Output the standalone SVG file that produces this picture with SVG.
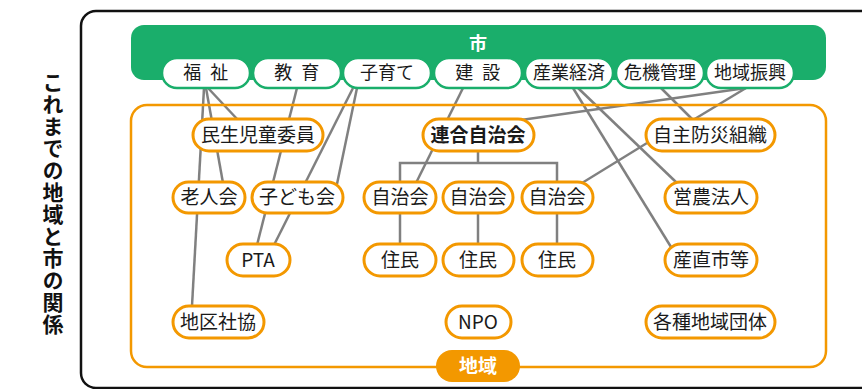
<svg xmlns="http://www.w3.org/2000/svg" width="862" height="389" viewBox="0 0 862 389">
<style>
text{font-family:"Noto Sans CJK JP","Noto Sans",sans-serif;}
.tab rect{fill:#fff;stroke:#1aae6b;stroke-width:2.5;}
.tab text{font-size:18px;fill:#1a1a1a;text-anchor:middle;}
.nd rect{fill:#fff;stroke:#f39800;stroke-width:3;}
.nd text{font-size:19px;fill:#1a1a1a;text-anchor:middle;}
.cn line,.cn path{stroke:#808080;stroke-width:2.5;fill:none;}
</style>
<rect x="81" y="11" width="820" height="377" rx="15" fill="none" stroke="#111" stroke-width="2.5"/>
<text x="53" y="72" style="writing-mode:vertical-rl;font-size:21px;font-weight:bold;letter-spacing:1px;" fill="#111">これまでの地域と市の関係</text>

<g id="city">
<rect x="131" y="25" width="695" height="55" rx="13" fill="#1aae6b"/>
<text x="478" y="50" style="font-size:18px;font-weight:bold;" fill="#fff" text-anchor="middle">市</text>
</g>

<g id="connectors" class="cn">
<line x1="204" y1="88" x2="192" y2="306"/>
<line x1="206" y1="88" x2="223" y2="183"/>
<line x1="208" y1="88" x2="238" y2="120"/>
<line x1="297" y1="88" x2="257" y2="245"/>
<line x1="353" y1="88" x2="274" y2="245"/>
<line x1="357" y1="88" x2="337" y2="184"/>
<line x1="463" y1="88" x2="416" y2="183"/>
<line x1="746" y1="88" x2="521" y2="120"/>
<line x1="746" y1="88" x2="693" y2="120"/>
<line x1="661" y1="88" x2="693" y2="120"/>
<line x1="578" y1="88" x2="677" y2="183"/>
<line x1="573" y1="88" x2="671" y2="247"/>
<line x1="647" y1="143" x2="582" y2="183"/>
<path d="M478,152V163M400,183V163H557V183"/>
<line x1="400" y1="213" x2="400" y2="245"/>
<line x1="478" y1="213" x2="478" y2="245"/>
<line x1="557" y1="213" x2="557" y2="245"/>
</g>

<rect x="131" y="105" width="695" height="262" rx="16" fill="none" stroke="#f39800" stroke-width="2.5"/>

<g id="tab-fukushi" class="tab"><rect x="162" y="58" width="88" height="30" rx="15"/><text x="207" y="79" xml:space="preserve" style="letter-spacing:2.5px">福 祉</text></g>
<g id="tab-kyouiku" class="tab"><rect x="253" y="58" width="88" height="30" rx="15"/><text x="298" y="79" xml:space="preserve" style="letter-spacing:2.5px">教 育</text></g>
<g id="tab-kosodate" class="tab"><rect x="343" y="58" width="88" height="30" rx="15"/><text x="387" y="79">子育て</text></g>
<g id="tab-kensetsu" class="tab"><rect x="434" y="58" width="88" height="30" rx="15"/><text x="479" y="79" xml:space="preserve" style="letter-spacing:2.5px">建 設</text></g>
<g id="tab-sangyou" class="tab"><rect x="525" y="58" width="88" height="30" rx="15"/><text x="569" y="79">産業経済</text></g>
<g id="tab-kiki" class="tab"><rect x="616" y="58" width="88" height="30" rx="15"/><text x="660" y="79">危機管理</text></g>
<g id="tab-shinkou" class="tab"><rect x="706" y="58" width="88" height="30" rx="15"/><text x="750" y="79">地域振興</text></g>

<g id="minsei" class="nd"><rect x="193" y="119" width="130" height="32" rx="16"/><text x="258" y="142">民生児童委員</text></g>
<g id="rengou" class="nd"><rect x="423" y="119" width="111" height="32" rx="16"/><text x="478" y="142" style="font-weight:bold">連合自治会</text></g>
<g id="jishubousai" class="nd"><rect x="646" y="119" width="129" height="32" rx="16"/><text x="710" y="142">自主防災組織</text></g>
<g id="roujin" class="nd"><rect x="173" y="182" width="72" height="31" rx="15.5"/><text x="209" y="204">老人会</text></g>
<g id="kodomo" class="nd"><rect x="252" y="182" width="91" height="31" rx="15.5"/><text x="297" y="204">子ども会</text></g>
<g id="jichi1" class="nd"><rect x="364" y="182" width="72" height="31" rx="15.5"/><text x="400" y="204">自治会</text></g>
<g id="jichi2" class="nd"><rect x="443" y="182" width="70" height="31" rx="15.5"/><text x="478" y="204">自治会</text></g>
<g id="jichi3" class="nd"><rect x="522" y="182" width="71" height="31" rx="15.5"/><text x="557" y="204">自治会</text></g>
<g id="einou" class="nd"><rect x="665" y="182" width="92" height="31" rx="15.5"/><text x="711" y="204">営農法人</text></g>
<g id="pta" class="nd"><rect x="227" y="244" width="63" height="32" rx="16"/><text x="258" y="267">PTA</text></g>
<g id="jumin1" class="nd"><rect x="364" y="244" width="72" height="32" rx="16"/><text x="400" y="267">住民</text></g>
<g id="jumin2" class="nd"><rect x="443" y="244" width="71" height="32" rx="16"/><text x="478" y="267">住民</text></g>
<g id="jumin3" class="nd"><rect x="522" y="244" width="71" height="32" rx="16"/><text x="557" y="267">住民</text></g>
<g id="sanchoku" class="nd"><rect x="665" y="244" width="92" height="32" rx="16"/><text x="711" y="267">産直市等</text></g>
<g id="chikushakyo" class="nd"><rect x="173" y="306" width="91" height="32" rx="16"/><text x="218" y="329">地区社協</text></g>
<g id="npo" class="nd"><rect x="446" y="306" width="65" height="32" rx="16"/><text x="478" y="329">NPO</text></g>
<g id="kakushu" class="nd"><rect x="646" y="306" width="129" height="32" rx="16"/><text x="710" y="329">各種地域団体</text></g>

<g id="chiiki">
<rect x="436" y="350" width="84" height="32" rx="16" fill="#f39800"/>
<text x="478" y="373" style="font-size:19px;font-weight:bold;" fill="#fff" text-anchor="middle">地域</text>
</g>
</svg>
